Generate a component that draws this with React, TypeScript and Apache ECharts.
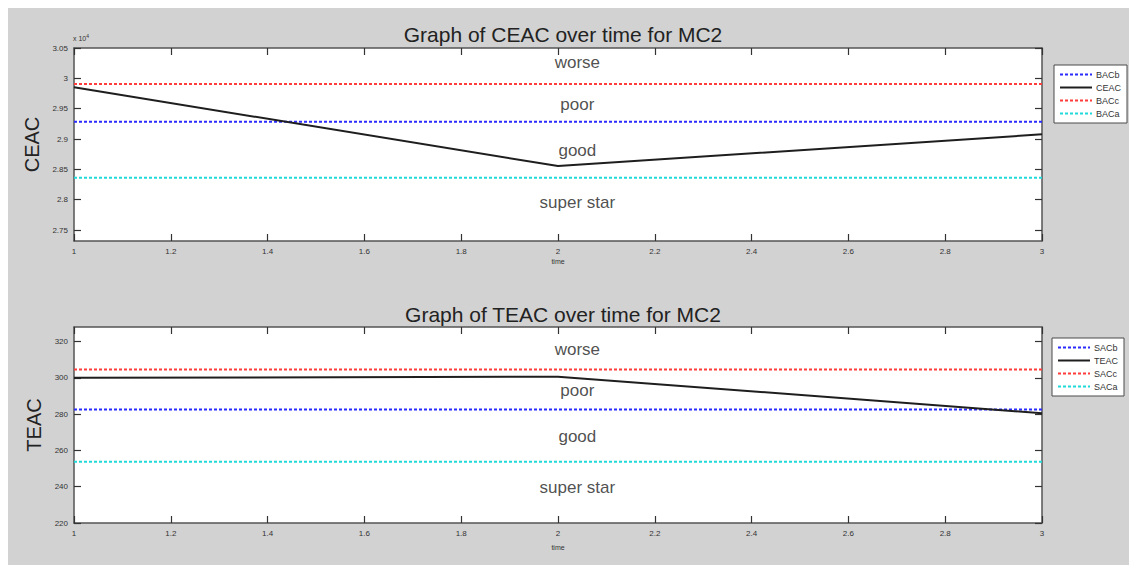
import React, { useEffect, useRef } from "react";
import * as echarts from "echarts";

// ---- data ----
const timePoints = [1, 2, 3];
const ceacValues = [29852, 28555, 29078];
const bacNames = ["BACb", "BACc", "BACa"];
const bacValues = [29285, 29907, 28362];
const teacValues = [300, 300.6, 280.5];
const sacNames = ["SACb", "SACc", "SACa"];
const sacValues = [282.6, 304.6, 253.8];
const zoneLabels = ["worse", "poor", "good", "super star"];
const ceacZoneY = [30264, 29571, 28812, 27954];
const teacZoneY = [315.6, 293, 267.7, 239.6];
const zoneX = 2.04;
const ceacTicks = [27500, 28000, 28500, 29000, 29500, 30000, 30500];
const teacTicks = [220, 240, 260, 280, 300, 320];

const FONT = "'Liberation Sans', Arial, Helvetica, sans-serif";
const dashColors = ["#2b2bff", "#ff3b3b", "#20dada"];

export default function App() {
  const ref = useRef<HTMLDivElement>(null);
  useEffect(() => {
    document.documentElement.style.overflow = "hidden";
    const chart = echarts.init(ref.current!, null, { renderer: "svg" });

    const gridDefs = [
      { left: 66, top: 40, width: 968, height: 193 },
      { left: 66, top: 319, width: 968, height: 196 },
    ];

    const xAxes: any[] = [];
    const yAxes: any[] = [];
    const yMin = [27320, 220];
    const yMax = [30500, 328];
    const yTicks = [ceacTicks, teacTicks];
    const yNames = ["CEAC", "TEAC"];
    const xNameGap = [17, 21];
    const mkLine = () => ({ show: true, lineStyle: { color: "#555555", width: 1.5 } });
    const mkTick = (cv?: number[]) => ({
      show: true,
      inside: true,
      length: 7,
      lineStyle: { color: "#333333", width: 1.2 },
      ...(cv ? { customValues: cv } : {}),
    });
    [0, 1].forEach((g) => {
      xAxes.push({
        type: "value",
        gridIndex: g,
        position: "bottom",
        z: 2,
        min: 1,
        max: 3,
        interval: 0.2,
        name: "time",
        nameLocation: "middle",
        nameGap: xNameGap[g],
        nameTextStyle: { fontSize: 7, color: "#333", fontFamily: FONT },
        axisLine: mkLine(),
        axisTick: mkTick(),
        axisLabel: { fontSize: 8, color: "#333", fontFamily: FONT, margin: 6, formatter: (v: number) => String(+v.toFixed(1)) },
        splitLine: { show: false },
      });
      xAxes.push({
        type: "value",
        gridIndex: g,
        position: "top",
        z: 2,
        min: 1,
        max: 3,
        interval: 0.2,
        axisLine: mkLine(),
        axisTick: mkTick(),
        axisLabel: { show: false },
        splitLine: { show: false },
      });
      const yFmt = (v: number) => (g === 0 ? String(+(v / 10000).toFixed(2)) : String(v));
      yAxes.push({
        type: "value",
        gridIndex: g,
        position: "left",
        z: 2,
        min: yMin[g],
        max: yMax[g],
        name: yNames[g],
        nameLocation: "middle",
        nameGap: 29,
        nameTextStyle: { fontSize: 20, color: "#222", fontFamily: FONT },
        axisLine: mkLine(),
        axisTick: mkTick(yTicks[g]),
        axisLabel: { customValues: yTicks[g], fontSize: 8, color: "#333", fontFamily: FONT, margin: 6, formatter: yFmt },
        splitLine: { show: false },
      });
      yAxes.push({
        type: "value",
        gridIndex: g,
        position: "right",
        z: 2,
        min: yMin[g],
        max: yMax[g],
        axisLine: mkLine(),
        axisTick: mkTick(yTicks[g]),
        axisLabel: { show: false },
        splitLine: { show: false },
      });
    });

    const hLine = (name: string, value: number, color: string, g: number) => ({
      name, type: "line", xAxisIndex: g * 2, yAxisIndex: g * 2, symbol: "none",
      data: [[timePoints[0], value], [timePoints[timePoints.length - 1], value]],
      lineStyle: { color, width: 2, type: [3, 2] }, itemStyle: { color }, z: 3,
    });
    const mainLine = (name: string, vals: number[], g: number) => ({
      name, type: "line", xAxisIndex: g * 2, yAxisIndex: g * 2, symbol: "none",
      data: timePoints.map((t, i) => [t, vals[i]]),
      lineStyle: { color: "#1e1e1e", width: 2 }, itemStyle: { color: "#1e1e1e" }, z: 4,
    });
    const zoneSeries = (ys: number[], g: number) => ({
      name: "zones" + g, type: "scatter", xAxisIndex: g * 2, yAxisIndex: g * 2, symbolSize: 1,
      itemStyle: { color: "rgba(0,0,0,0)" },
      data: zoneLabels.map((lab, i) => ({ value: [zoneX, ys[i]], name: lab })),
      label: { show: true, position: "inside", formatter: (p: any) => p.name, fontSize: 17, color: "#222", fontFamily: FONT },
      z: 5,
    });

    const legendCommon = {
      orient: "vertical", backgroundColor: "#ffffff", borderColor: "#4a4a4a", borderWidth: 1, borderRadius: 0,
      padding: [5, 6, 5, 5], itemWidth: 32, itemHeight: 8, itemGap: 4, itemStyle: { opacity: 0 },
      textStyle: { fontSize: 9, color: "#333", fontFamily: FONT, padding: [0, 0, 0, -1] },
    };
    const titleStyle = { fontSize: 21, fontWeight: "normal", color: "#222", fontFamily: FONT };

    chart.setOption({
      animation: false,
      backgroundColor: "#d2d2d2",
      title: [
        { text: "Graph of CEAC over time for MC2", left: 550, top: 11, textAlign: "center", textStyle: titleStyle },
        { text: "Graph of TEAC over time for MC2", left: 550, top: 291, textAlign: "center", textStyle: titleStyle },
      ],
      grid: gridDefs.map((d) => ({ ...d, show: true, backgroundColor: "#ffffff", borderWidth: 0 })),
      xAxis: xAxes,
      yAxis: yAxes,
      legend: [
        { ...legendCommon, left: 1046, top: 57, data: [bacNames[0], "CEAC", bacNames[1], bacNames[2]] },
        { ...legendCommon, left: 1044, top: 330, data: [sacNames[0], "TEAC", sacNames[1], sacNames[2]] },
      ],
      graphic: [
        { type: "text", left: 65, top: 25, style: { text: "x 10{s|4}", rich: { s: { fontSize: 5, verticalAlign: "top", padding: [0, 0, 6, 0] } }, fontSize: 7, fill: "#333", fontFamily: FONT } },
      ],
      series: [
        hLine(bacNames[0], bacValues[0], dashColors[0], 0),
        mainLine("CEAC", ceacValues, 0),
        hLine(bacNames[1], bacValues[1], dashColors[1], 0),
        hLine(bacNames[2], bacValues[2], dashColors[2], 0),
        zoneSeries(ceacZoneY, 0),
        hLine(sacNames[0], sacValues[0], dashColors[0], 1),
        mainLine("TEAC", teacValues, 1),
        hLine(sacNames[1], sacValues[1], dashColors[1], 1),
        hLine(sacNames[2], sacValues[2], dashColors[2], 1),
        zoneSeries(teacZoneY, 1),
      ],
    });
    return () => chart.dispose();
  }, []);
  return <div ref={ref} style={{ width: 1129, height: 557 }} />;
}
